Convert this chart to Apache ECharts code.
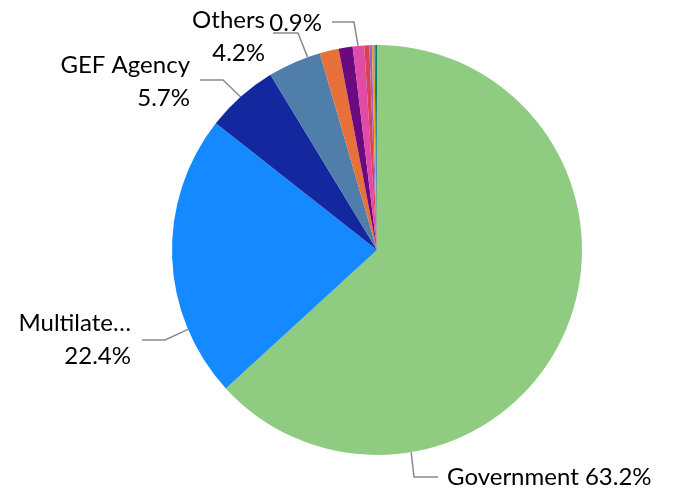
<!DOCTYPE html>
<html>
<head>
<meta charset="utf-8">
<script src="https://cdn.jsdelivr.net/npm/echarts@6/dist/echarts.min.js"></script>
<style>html,body{margin:0;padding:0;background:#fff;}#c{width:673px;height:493px;}</style>
</head>
<body>
<div id="c"></div>
<script>
const names = ['Government','Multilateral','GEF Agency','Others','Other 5','Other 6','Other 7','Other 8','Other 9','Other 10','Other 11','Other 12'];
const values = [63.2, 22.4, 5.7, 4.2, 1.5, 1.1, 0.9, 0.4, 0.2, 0.2, 0.1, 0.1];
const colors = ['#8fcb80','#1589ff','#13289e','#4f7eaa','#e8703a','#6b0a7e','#e04ba8','#d9434f','#9a60d0','#e8a21a','#2f5fc8','#0a7a6e'];
const labelText = {0:'{b} {d}%', 1:'Multilate…\n{d}%', 2:'{b}\n{d}%', 3:'{b}\n{d}%', 6:'{d}%'};

const CX = 377, CY = 250, R = 205;
// label placement: anchor angle on rim (deg clockwise from top), elbow, end, label pos
const place = {
  0: {a:170.4, elbow:[414,477], end:[438,477], x:447, y:477, align:'left'},
  1: {a:247.2, elbow:[165,340], end:[142,340], x:131, y:340, align:'right'},
  2: {a:318.3, elbow:[223,80], end:[200,80], x:190, y:82, align:'right'},
  3: {a:340.2, elbow:[298,33], end:[273,33], x:265, y:37, align:'right'},
  6: {a:354.7, elbow:[354,22], end:[332,22], x:322, y:23, align:'right'}
};

const data = names.map((n, i) => ({
  name: n, value: values[i],
  itemStyle: {color: colors[i]},
  label: {show: labelText[i] !== undefined, formatter: labelText[i] || ''},
  labelLine: {show: labelText[i] !== undefined}
}));

const chart = echarts.init(document.getElementById('c'), null, {renderer:'canvas'});
chart.setOption({
  animation: false,
  series: [{
    type: 'pie',
    center: [CX, CY],
    radius: R,
    startAngle: 90,
    clockwise: true,
    percentPrecision: 1,
    avoidLabelOverlap: false,
    data: data,
    itemStyle: {borderWidth: 0},
    label: {
      position: 'outside',
      fontFamily: 'Lato',
      fontSize: 24,
      lineHeight: 33,
      color: '#000'
    },
    labelLine: {
      lineStyle: {color: '#8a8a8a', width: 1.5}
    },
    labelLayout: function (p) {
      const q = place[p.dataIndex];
      if (!q) return {};
      const t = q.a * Math.PI / 180;
      const s = [CX + R * Math.sin(t), CY - R * Math.cos(t)];
      return {
        x: q.x, y: q.y, align: q.align, verticalAlign: 'middle',
        labelLinePoints: [s, q.elbow, q.end]
      };
    }
  }]
});
</script>
</body>
</html>
